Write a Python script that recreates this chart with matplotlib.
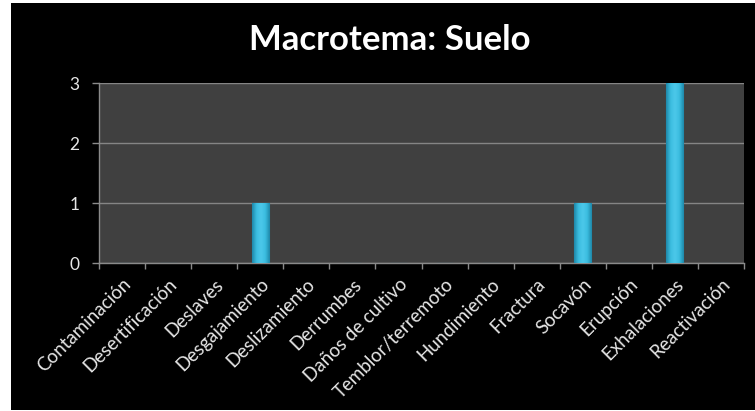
import numpy as np
import matplotlib
matplotlib.use("Agg")
import matplotlib.pyplot as plt
from matplotlib.patches import Rectangle
from matplotlib.colors import LinearSegmentedColormap

# datos del gráfico
categorias = ["Contaminación", "Desertificación", "Deslaves", "Desgajamiento",
              "Deslizamiento", "Derrumbes", "Daños de cultivo", "Temblor/terremoto",
              "Hundimiento", "Fractura", "Socavón", "Erupción", "Exhalaciones",
              "Reactivación"]
valores = [0, 0, 0, 1, 0, 0, 0, 0, 0, 0, 1, 0, 3, 0]
y_ticks = [0, 1, 2, 3]

W, H = 755, 411
fig = plt.figure(figsize=(W / 100, H / 100), dpi=100, facecolor="white")

# fondo negro con un pequeño margen blanco arriba y a la izquierda
fig.patches.append(Rectangle((11 / W, 1 / H), 1 - 11 / W, 1 - 4 / H,
                             transform=fig.transFigure, facecolor="black",
                             edgecolor="none", zorder=-10))

ax = fig.add_axes([99 / W, 1 - 263 / H, (744 - 99) / W, (263 - 83) / H])
ax.set_facecolor("#404040")

x = np.arange(len(categorias))
barras = ax.bar(x, valores, width=0.37, color="#34b3d8", edgecolor="#1d7896",
                linewidth=0.8, zorder=3)

# degradado horizontal dentro de cada barra (efecto tipo Excel)
cmap = LinearSegmentedColormap.from_list(
    "cian", ["#1e87a8", "#3bbde0", "#4cc8ea", "#3bbde0", "#1e87a8"])
grad = np.linspace(0, 1, 64).reshape(1, -1)
for b in barras:
    if b.get_height() <= 0:
        continue
    x0, w, h = b.get_x(), b.get_width(), b.get_height()
    im = ax.imshow(grad, cmap=cmap, aspect="auto", extent=(x0, x0 + w, 0, h),
                   zorder=4, interpolation="bicubic")
    im.set_clip_path(b)

ax.set_xlim(-0.5, len(categorias) - 0.5)
ax.set_ylim(0, 3)
ax.set_yticks(y_ticks)
ax.set_yticklabels([str(v) for v in y_ticks], family="Lato",
                   fontsize=12.5, color="#e6e6e6")
ax.yaxis.grid(True, color="#858585", linewidth=1.0, zorder=1)
ax.set_axisbelow(True)

# marcas del eje x entre categorías
ax.set_xticks(np.arange(len(categorias) + 1) - 0.5)
ax.set_xticklabels([])
ax.set_xticks(x, minor=True)
ax.set_xticklabels(categorias, minor=True, rotation=45, ha="right",
                   rotation_mode="anchor", fontsize=13.5, family="Lato",
                   color="#e6e6e6")
ax.tick_params(axis="x", which="minor", length=0, pad=9)
ax.tick_params(axis="x", which="major", length=4.5, color="#8a8a8a", width=1)
ax.tick_params(axis="y", length=5, color="#8a8a8a", width=1, pad=9)

for lado in ["top", "right"]:
    ax.spines[lado].set_visible(False)
for lado in ["left", "bottom"]:
    ax.spines[lado].set_color("#8a8a8a")
    ax.spines[lado].set_linewidth(1)

fig.text(390 / W, 1 - 40 / H, "Macrotema: Suelo", ha="center", va="center",
         fontsize=25, fontweight="bold", family="Lato", color="white")

fig.savefig("out.png", dpi=100, facecolor="white")
